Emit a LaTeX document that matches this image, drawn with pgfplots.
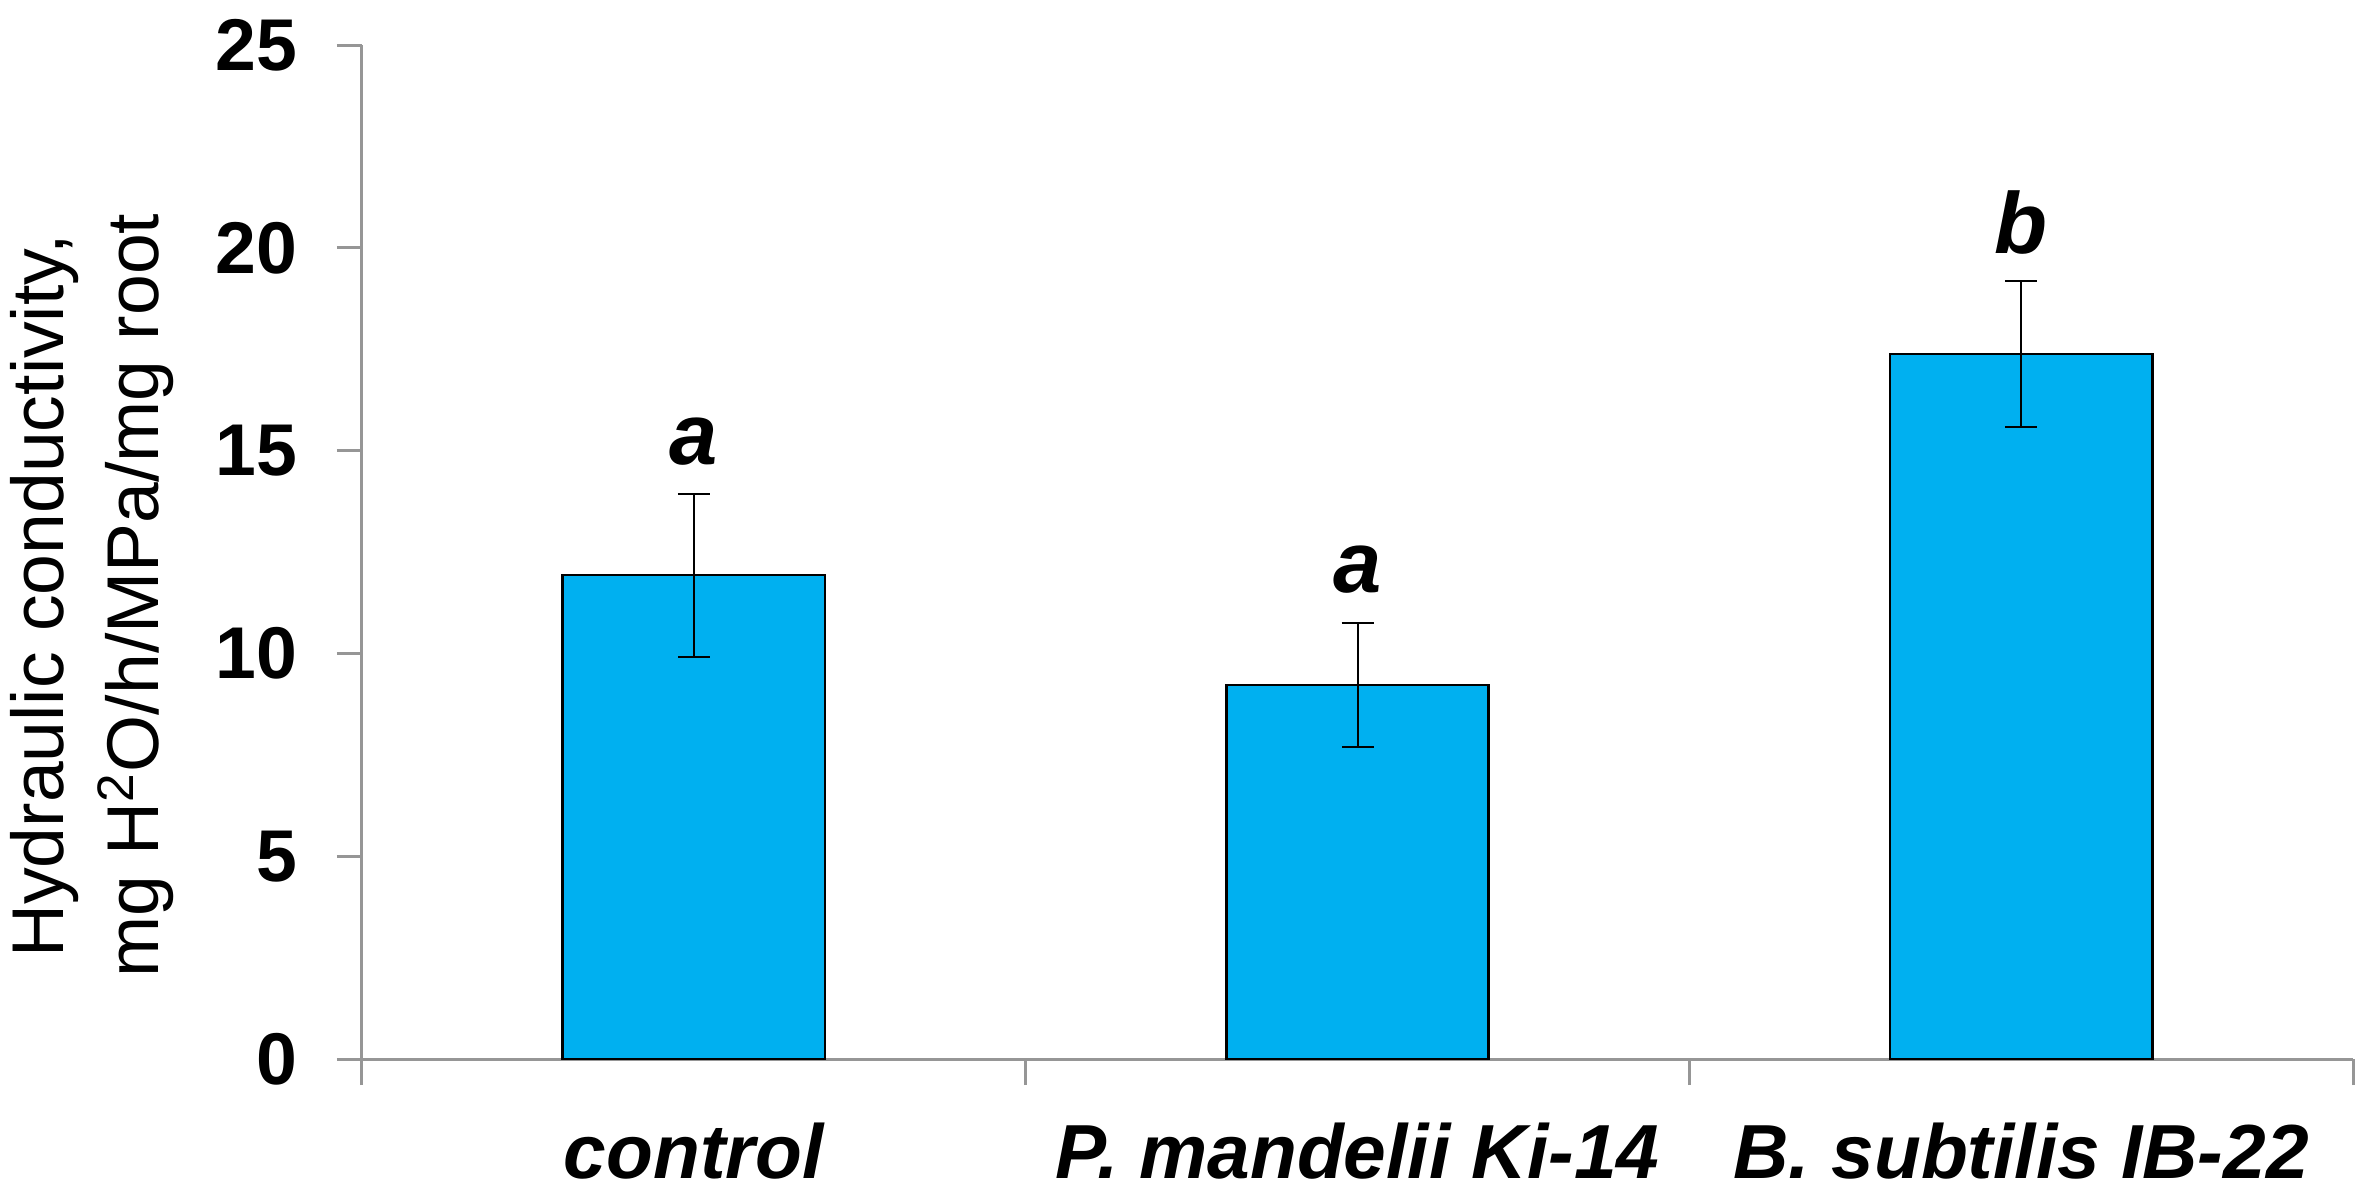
\documentclass[border=0pt]{standalone}
\usepackage{pgfplots}
\pgfplotsset{compat=1.18}
\usepackage{fontspec}
\setmainfont{Liberation Sans}
\definecolor{barblue}{HTML}{00B0F0}
\definecolor{axgray}{HTML}{969696}
\pgfplotstableread{
x y err
0 11.93 2.01
1 9.22 1.52
2 17.38 1.80
}\datatable
\begin{document}
\begin{tikzpicture}
\begin{axis}[
 at={(0,0)}, anchor=south west,
 scale only axis, width=597.3pt, height=304.2pt,
 xmin=-0.5, xmax=2.5, ymin=0, ymax=25,
 axis lines=left,
 axis line style={-, draw=axgray, line width=0.9pt},
 ytick={0,5,10,15,20,25},
 xtick={0,1,2},
 xticklabels={control, P. mandelii Ki-14, B. subtilis IB-22},
 minor xtick={-0.5,0.5,1.5,2.5},
 tick align=outside,
 major tick length=7.5pt, minor tick length=7.8pt,
 tick style={draw=axgray, line width=0.9pt},
 major x tick style={draw=none},
 /pgf/number format/assume math mode=true,
 yticklabel style={font=\fontsize{22}{26}\selectfont\bfseries, anchor=east, inner sep=0pt, xshift=-11.7pt},
 xticklabel style={font=\fontsize{23}{27}\selectfont\bfseries\itshape, anchor=base, inner sep=0pt, yshift=-28.2pt},
 ylabel={Hydraulic conductivity,\\mg H\textsuperscript{2}O/h/MPa/mg root},
 ylabel style={font=\fontsize{22}{28.5}\selectfont, align=center, inner sep=0pt,
   at={(axis description cs:-0.0944,0.457)}, anchor=south},
 ybar, bar width=0.395,
]
\addplot[fill=barblue, draw=black, line width=0.8pt,
  error bars/.cd, y dir=both, y explicit,
  error bar style={line width=0.6pt, black},
  error mark options={rotate=90, line width=0.6pt, black, mark size=4.8pt}]
  table[x=x, y=y, y error=err]{\datatable};
\node[anchor=base, font=\fontsize{26}{30}\selectfont\bfseries\itshape] at (axis cs:0,14.66) {a};
\node[anchor=base, font=\fontsize{26}{30}\selectfont\bfseries\itshape] at (axis cs:1,11.51) {a};
\node[anchor=base, font=\fontsize{26}{30}\selectfont\bfseries\itshape] at (axis cs:2,19.85) {b};
\end{axis}
\pgfresetboundingbox
\path[use as bounding box] (-108.6pt,-39.3pt) rectangle (600pt,317.7pt);
\end{tikzpicture}
\end{document}
